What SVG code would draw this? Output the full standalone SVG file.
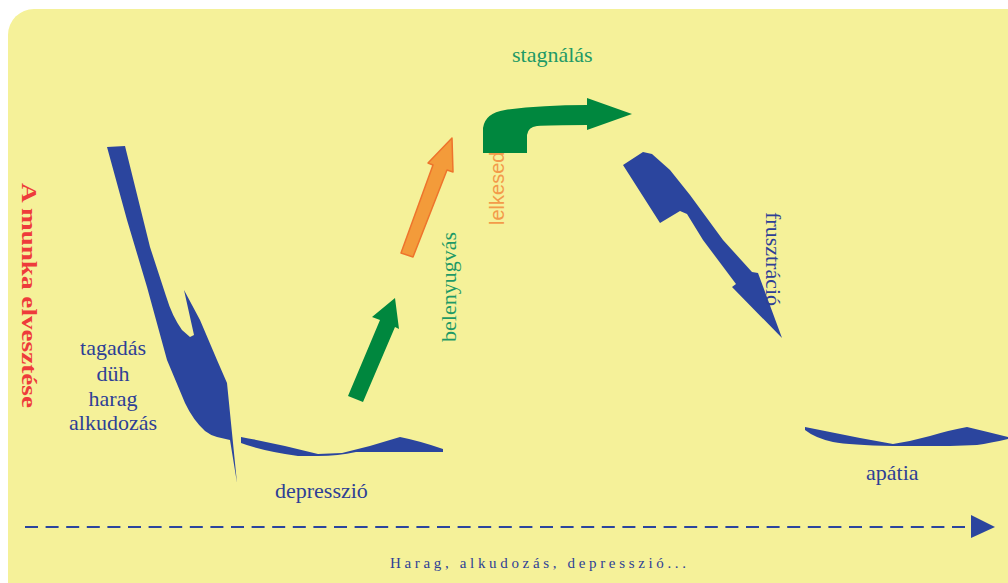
<svg xmlns="http://www.w3.org/2000/svg" width="1008" height="583" viewBox="0 0 1008 583">
<style>
.blue{fill:#2B459E}
.green{fill:#00873E}
.orange{fill:#F39B3A;stroke:#EE742C;stroke-width:1.5;stroke-linejoin:round}
.lbl{font-family:"Liberation Serif","Times New Roman",serif;font-size:22px}
.tb{fill:#2E3F96}
.tg{fill:#1E9A66}
</style>
<rect x="0" y="0" width="1008" height="583" fill="#FFFFFF"/>
<rect id="bg" x="8" y="9" width="1026" height="600" rx="26" fill="#F5F199"/>

<g id="nodes-shapes">
<g id="tagadas-shape">
<path class="blue" d="M107,147 L125,146 L150,247 L166,296 Q172,316 182,330 L190,337 L194,335 L184,290 L200,320 L217,360 L227,383 L230,413 L232,433 L237,483 L230,440 L217,437 Q210,435 205,431 Q193,420 185,403 L167,360 L147,287 L127,220 Z"/>
</g>
<g id="depresszio-shape">
<path class="blue" d="M241,437 Q280,444 318,454 L342,453 Q372,446 400,437 Q420,441 443,449 L443,452 Q420,452 392,452 L356,452 Q338,456 318,456 L298,456 Q262,451 241,443 Z"/>
</g>
<g id="arrow-green1">
<path class="green" d="M348,396 L380,320 L372,317 L395,298 L399,329 L395,327 L363,402 Z"/>
</g>
<g id="arrow-orange">
<path class="orange" d="M401,253 L433,165 L428,163 L452,138 L453,172 L447,170 L413,257 Z"/>
</g>
<g id="frusztracio-shape">
<path class="blue" d="M623,165 L643,152 L652,154 L670,170 L690,195 L723,240 L752,272 L758,273 L782,338 L732,287 L736,284 L703,240 L687,214 L680,211 L660,223 Z"/>
</g>
<g id="apatia-shape">
<path class="blue" d="M805,427 Q830,432 860,438 L893,444 Q912,441 930,436 Q950,430 967,427 Q988,432 1008,437 L1008,439 Q990,443 977,445 L950,446 L893,446 Q850,445 833,442 Q815,438 805,430 Z"/>
</g>
</g>

<g id="labels">
<text class="lbl" fill="#EE3B3B" font-weight="bold" font-size="29" transform="translate(22,183) rotate(90)" textLength="225" lengthAdjust="spacingAndGlyphs">A munka elvesztése</text>
<g id="tagadas-label" class="lbl tb" text-anchor="middle">
<text x="113" y="355">tagadás</text>
<text x="113" y="381">düh</text>
<text x="113" y="406">harag</text>
<text x="113" y="430">alkudozás</text>
</g>
<text id="depresszio-label" class="lbl tb" x="275" y="498">depresszió</text>
<text id="belenyugvas-label" class="lbl tg" transform="translate(456,342) rotate(-90)">belenyugvás</text>
<text id="lelkesedes-label" fill="#F39B4A" font-family="'Liberation Sans',Arial,sans-serif" font-size="20" transform="translate(504,225) rotate(-90)">lelkesed</text>
<text id="stagnalas-label" class="lbl tg" x="512" y="62">stagnálás</text>
<text id="frusztracio-label" class="lbl tb" transform="translate(766,212) rotate(90)">frusztráció</text>
<text id="apatia-label" class="lbl tb" x="866" y="480">apátia</text>
<text id="axis-label" class="tb" font-family="'Liberation Serif','Times New Roman',serif" font-size="15" x="390" y="568" textLength="296" lengthAdjust="spacing">Harag, alkudozás, depresszió...</text>
</g>

<g id="arrow-stagnalas">
<path class="green" d="M483,153 L483,128 Q485,113 505,110 Q540,105 587,105 L587,98 L632,114 L587,130 L587,125 Q550,125 537,126 Q528,127 527,135 L527,153 Z"/>
</g>

<g id="connectors">
<line x1="25" y1="527" x2="970" y2="527" stroke="#2B459E" stroke-width="2" stroke-dasharray="13 7.6"/>
<path d="M971,515 L995,527 L971,538 Z" fill="#2B459E"/>
</g>
</svg>
